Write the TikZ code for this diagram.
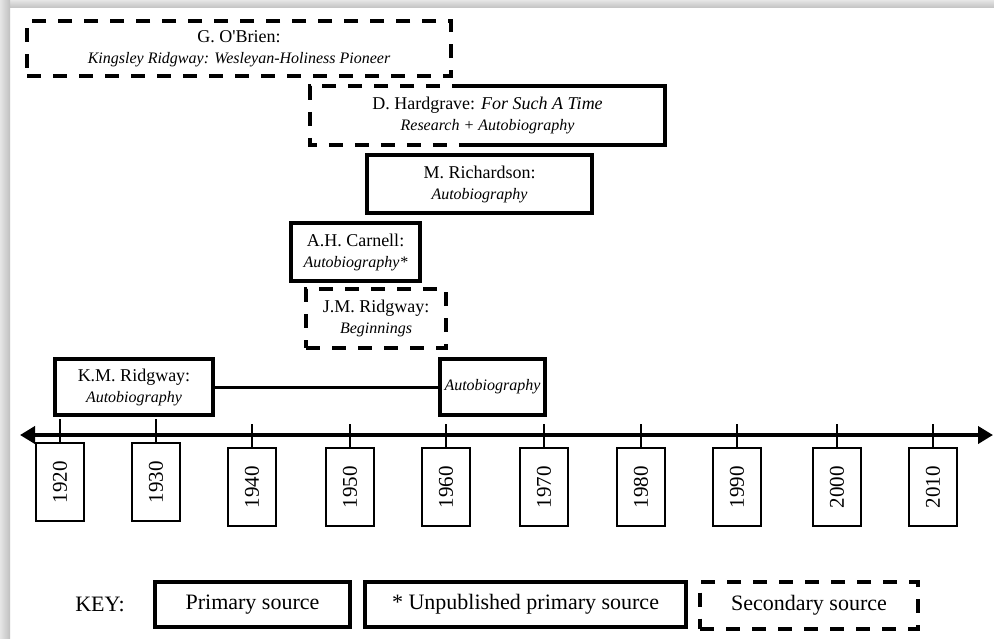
\documentclass[tikz,border=0pt]{standalone}
\usepackage{fontspec}
\usepackage{graphicx}
\setmainfont{Liberation Serif}
\usetikzlibrary{arrows.meta,calc}

% second line of a source box: the work's title
\newcommand\worktitle[1]{{\fontsize{8}{10.5}\selectfont\itshape #1}}
\newcommand\yearlabel[1]{\rotatebox{90}{#1}}

\tikzset{
  srcbox/.style={draw, line width=2pt, inner sep=0pt, align=center,
    font=\fontsize{9}{10.5}\selectfont},
  dashline/.style={dash pattern=on 7pt off 6pt},
  secbox/.style={srcbox, dashline},
  yearbox/.style={draw, line width=1pt, minimum width=24pt, minimum height=39pt,
    inner sep=0pt, font=\fontsize{10.5}{12}\selectfont},
  yeartick/.style={line width=1pt},
  timeaxis/.style={line width=2.2pt,
    {Triangle[length=7.5pt,width=8.5pt]}-{Triangle[length=7.5pt,width=8.5pt]}},
  keybox/.style={draw, line width=2pt, minimum height=22.5pt, inner sep=0pt,
    font=\fontsize{11}{13}\selectfont},
  link/.style={line width=1.5pt},
}

\begin{document}
\begin{tikzpicture}[x=0.5pt,y=-0.5pt]
\useasboundingbox (0,0) rectangle (994,638);
\fill[white] (0,0) rectangle (994,638);

% soft edge shadow along the top and left
\shade[top color=gray!20, bottom color=gray!45] (0,0) rectangle (994,7);
\shade[left color=gray!20, right color=gray!50] (0,0) rectangle (10,638);

% ---- sources ----
\node[secbox, minimum width=212pt, minimum height=27.5pt] (obrien) at (239,48.5)
  {G. O\textquotesingle Brien:\\\worktitle{Kingsley Ridgway: Wesleyan-Holiness Pioneer}};

\node[srcbox, draw=none, minimum width=175.5pt, minimum height=27.5pt] (hardgrave) at (487.5,115.5)
  {D. Hardgrave: \textit{For Such A Time}\\\worktitle{Research + Autobiography}};
\coordinate (hsplitN) at ($(hardgrave.north west)!0.44!(hardgrave.north east)$);
\coordinate (hsplitS) at ($(hardgrave.south west)!0.44!(hardgrave.south east)$);
\draw[line width=2pt, dashline] (hsplitN) -- (hardgrave.north west) -- (hardgrave.south west) -- (hsplitS);
\draw[line width=2pt] (hsplitN) -- (hardgrave.north east) -- (hardgrave.south east) -- (hsplitS);

\node[srcbox, minimum width=112.5pt, minimum height=29pt] (richardson) at (479.5,184)
  {M. Richardson:\\\worktitle{Autobiography}};

\node[srcbox, minimum width=64.5pt, minimum height=29pt] (carnell) at (355.5,252)
  {A.H. Carnell:\\\worktitle{Autobiography*}};

\node[secbox, minimum width=70pt, minimum height=29.5pt] (jmridgway) at (376,318.5)
  {J.M. Ridgway:\\\worktitle{Beginnings}};

\node[srcbox, minimum width=79pt, minimum height=28pt] (kmridgway) at (134,387)
  {K.M. Ridgway:\\\worktitle{Autobiography}};

\node[srcbox, minimum width=52.5pt, minimum height=28pt] (kmlater) at (492.5,387)
  {\worktitle{Autobiography}};

\draw[link] (kmridgway.east) -- (kmlater.west);

% ---- time axis ----
\coordinate (axL) at (20,435);
\coordinate (axR) at (993,435);
\draw[timeaxis] (axL) -- (axR);

% years: tick x, tick top, box centre y
\foreach \yr/\x/\tt/\by in {1920/60/419/482, 1930/156/419/482,
    1940/252/424/487, 1950/350/424/487, 1960/446/424/487,
    1970/544/424/487, 1980/641/424/487, 1990/737/424/487,
    2000/837/424/487, 2010/933/424/487} {
  \node[yearbox] (y\yr) at (\x,\by) {\yearlabel{\yr}};
  \coordinate (t\yr) at (\x,\tt);
  \draw[yeartick] (t\yr) -- (y\yr.north);
}

% ---- key ----
\node[font=\fontsize{11}{13}\selectfont] (keylabel) at (100,604) {KEY:};
\node[keybox, minimum width=97.5pt] (kprimary) at (252.5,604.5) {Primary source};
\node[keybox, minimum width=160.5pt] (kunpub) at (525.5,604.5) {* Unpublished primary source};
\node[keybox, dashline, minimum width=109pt, minimum height=23.5pt] (ksecondary) at (809,605) {Secondary source};
\end{tikzpicture}
\end{document}
